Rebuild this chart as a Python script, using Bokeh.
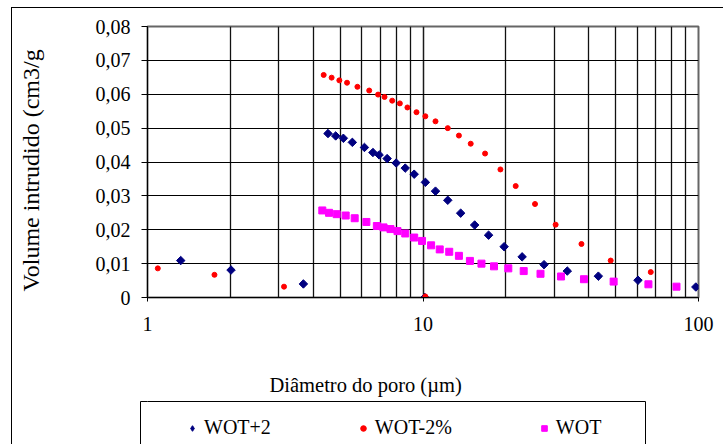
import math
import numpy as np
from bokeh.plotting import figure
from bokeh.layouts import column
from bokeh.models import (FixedTicker, CustomJSTickFormatter, Legend, LegendItem,
                          LinearAxis, Range1d, Title)
from bokeh.embed import file_html
from bokeh.resources import INLINE

# ---- data ----
wot2_x = [1.32, 2.01, 3.68, 4.52, 4.82, 5.14, 5.54, 6.13, 6.58, 6.93, 7.41, 7.99,
          8.62, 9.29, 10.2, 11.1, 12.3, 13.7, 15.4, 17.3, 19.7, 22.9, 27.5, 33.4,
          43.3, 60.3, 97.8, 10.15]
wot2_y = [0.0109, 0.0081, 0.0040, 0.0484, 0.0477, 0.0470, 0.0458, 0.0443, 0.0428,
          0.0421, 0.0410, 0.0397, 0.0382, 0.0364, 0.0340, 0.0314, 0.0287, 0.0249,
          0.0214, 0.0184, 0.0150, 0.0120, 0.0097, 0.0078, 0.0063, 0.0051, 0.0031, 0.0]

wotm2_x = [1.09, 1.75, 3.13, 4.36, 4.66, 4.97, 5.30, 5.78, 6.38, 6.87, 7.25, 7.73,
           8.24, 8.78, 9.47, 10.2, 11.1, 12.3, 13.5, 14.9, 16.8, 19.1, 21.7, 25.5,
           30.3, 37.6, 48.0, 67.1, 10.2]
wotm2_y = [0.0086, 0.0067, 0.0032, 0.0657, 0.0649, 0.0641, 0.0634, 0.0622, 0.0611,
           0.0599, 0.0592, 0.0581, 0.0573, 0.0561, 0.0547, 0.0535, 0.0520, 0.0500,
           0.0478, 0.0454, 0.0425, 0.0378, 0.0329, 0.0276, 0.0215, 0.0158, 0.0109,
           0.0075, 0.0003]

wot_x = [4.31, 4.56, 4.86, 5.24, 5.65, 6.23, 6.80, 7.19, 7.62, 8.08, 8.62, 9.29,
         9.92, 10.7, 11.5, 12.45, 13.5, 14.8, 16.3, 18.1, 20.4, 23.2, 26.7, 31.7,
         38.4, 49.2, 65.8, 83.2]
wot_y = [0.0257, 0.0250, 0.0246, 0.0242, 0.0234, 0.0223, 0.0211, 0.0207, 0.0202,
         0.0196, 0.0189, 0.0177, 0.0167, 0.0154, 0.0142, 0.0135, 0.0123, 0.0108,
         0.0100, 0.0092, 0.0086, 0.0078, 0.0070, 0.0062, 0.0054, 0.0047, 0.0039,
         0.0032]

series_labels = ["WOT+2", "WOT-2%", "WOT"]
series_colors = ["#000080", "#FF0000", "#FF00FF"]
x_major_ticks = [1, 10, 100]
x_minor_ticks = [2, 3, 4, 5, 6, 7, 8, 9, 20, 30, 40, 50, 60, 70, 80, 90]
y_ticks = [0, 0.01, 0.02, 0.03, 0.04, 0.05, 0.06, 0.07, 0.08]
x_title = "Diâmetro do poro (µm)"
y_title = "Volume intrudido (cm3/g"

FONT = "Liberation Serif"
BL, BR = 135, 25  # shared left/right borders of both stacked figures
blank = CustomJSTickFormatter(code="return '';")


def spacer_axis(width):
    # an empty side panel of a given width (one white tick at the range start)
    return LinearAxis(ticker=FixedTicker(ticks=[0]), formatter=blank,
                      major_tick_out=width, major_tick_in=0, minor_tick_out=0,
                      minor_tick_in=0, major_label_standoff=0,
                      major_label_text_font_size="0px", axis_line_color=None,
                      major_tick_line_color="white", major_tick_line_width=1)


# ---------------- main chart ----------------
p = figure(width=711, height=355, x_axis_type="log", x_range=(1, 100),
           y_range=(0, 0.08), output_backend="svg", toolbar_location=None,
           min_border_left=BL, min_border_right=BR, min_border_top=18,
           min_border_bottom=66)
p.background_fill_color = "white"
p.border_fill_color = "white"
p.outline_line_color = "#666666"
p.outline_line_width = 2

p.xaxis.ticker = FixedTicker(ticks=x_major_ticks, minor_ticks=x_minor_ticks)
p.xaxis.formatter = CustomJSTickFormatter(code="return tick.toFixed(0);")
p.xaxis.major_tick_out = 4
p.xaxis.major_tick_in = 0
p.xaxis.minor_tick_line_color = None
p.xaxis.major_label_standoff = 15

p.yaxis.ticker = FixedTicker(ticks=y_ticks)
p.yaxis.formatter = CustomJSTickFormatter(
    code="return tick == 0 ? '0' : tick.toFixed(2).replace('.', ',');")
p.yaxis.major_tick_out = 6
p.yaxis.major_tick_in = 0
p.yaxis.minor_tick_line_color = None
p.yaxis.major_label_standoff = 11

for ax in (p.xaxis, p.yaxis):
    ax.axis_line_color = "black"
    ax.major_tick_line_color = "black"
    ax.major_label_text_font = FONT
    ax.major_label_text_font_size = "20px"
    ax.major_label_text_color = "black"

p.xgrid.grid_line_color = "#1a1a1a"
p.xgrid.grid_line_width = 1.5
p.xgrid.minor_grid_line_color = "#111111"
p.xgrid.minor_grid_line_width = 1.3
p.ygrid.ticker = FixedTicker(ticks=y_ticks)
p.ygrid.grid_line_color = "black"
p.ygrid.grid_line_width = 1.2

# y title: placed outside a spacer, anchored near the frame bottom
p.add_layout(spacer_axis(47), "left")
p.add_layout(Title(text=y_title, align="left", offset=6, vertical_align="bottom",
                   standoff=4, text_font=FONT, text_font_size="24px",
                   text_font_style="normal", text_color="black"), "left")

r1 = p.scatter(wot2_x, wot2_y, marker="square", angle=math.pi / 4, size=6,
               fill_color=series_colors[0], line_color=series_colors[0])
r2 = p.scatter(wotm2_x, wotm2_y, marker="circle", size=5,
               fill_color=series_colors[1], line_color=series_colors[1])
r3 = p.scatter(wot_x, wot_y, marker="square", size=7,
               fill_color=series_colors[2], line_color=series_colors[2])

# ---------------- x title + legend strip (1 x-unit = 1 px) ----------------
q = figure(width=711, height=81, x_range=Range1d(BL, 711 - BR),
           y_range=Range1d(0, 1), output_backend="svg", toolbar_location=None,
           x_axis_location=None, y_axis_location=None,
           min_border_left=BL, min_border_right=BR, min_border_top=38,
           min_border_bottom=0)
q.outline_line_color = None
q.xgrid.visible = False
q.ygrid.visible = False
q.background_fill_color = "white"
q.border_fill_color = "white"

box_right = 633   # legend frame right edge (x units = px)
box_gap = 7       # legend frame left edge sits this far left of the plot frame

# legend frame top edge + right edge (a long inward tick)
top_axis = LinearAxis(ticker=FixedTicker(ticks=[box_right]),
                      bounds=(BL, box_right), formatter=blank,
                      major_tick_out=0, major_tick_in=46, minor_tick_out=0,
                      minor_tick_in=0, major_label_standoff=0,
                      major_label_text_font_size="0px",
                      axis_line_color="black", axis_line_width=1,
                      major_tick_line_color="black", major_tick_line_width=1)
q.add_layout(top_axis, "above")
# x title above the legend frame
q.add_layout(Title(text=x_title, align="left", offset=122,
                   vertical_align="bottom", standoff=12, text_font=FONT,
                   text_font_size="20.5px", text_font_style="normal",
                   text_color="black"), "above")
# legend frame left edge (+ the short top piece as an inward tick)
q.add_layout(spacer_axis(box_gap), "left")
left_axis = LinearAxis(ticker=FixedTicker(ticks=[1]), formatter=blank,
                       major_tick_out=0, major_tick_in=box_gap,
                       minor_tick_out=0, minor_tick_in=0,
                       major_label_standoff=0, major_label_text_font_size="0px",
                       axis_line_color="black", axis_line_width=1,
                       major_tick_line_color="black", major_tick_line_width=1)
q.add_layout(left_axis, "left")

nan = np.array([np.nan])
l1 = q.scatter(nan, nan, marker="diamond",
               fill_color=series_colors[0], line_color=series_colors[0])
l2 = q.scatter(nan, nan, marker="circle",
               fill_color=series_colors[1], line_color=series_colors[1])
l3 = q.scatter(nan, nan, marker="square",
               fill_color=series_colors[2], line_color=series_colors[2])

legend = Legend(items=[LegendItem(label=series_labels[0], renderers=[l1]),
                       LegendItem(label=series_labels[1], renderers=[l2]),
                       LegendItem(label=series_labels[2], renderers=[l3])],
                orientation="horizontal", location=(38, 5),
                border_line_alpha=0, background_fill_alpha=0, padding=0,
                margin=0, spacing=85, glyph_width=14, glyph_height=22,
                label_height=22, label_standoff=5,
                label_text_font=FONT, label_text_font_size="20px",
                label_text_color="black")
q.add_layout(legend)

layout = column(p, q, spacing=0,
                styles={"margin-left": "11px", "margin-top": "7px",
                        "border-left": "1px solid black",
                        "border-top": "1px solid black"})

open("out.html", "w").write(file_html(layout, INLINE))
